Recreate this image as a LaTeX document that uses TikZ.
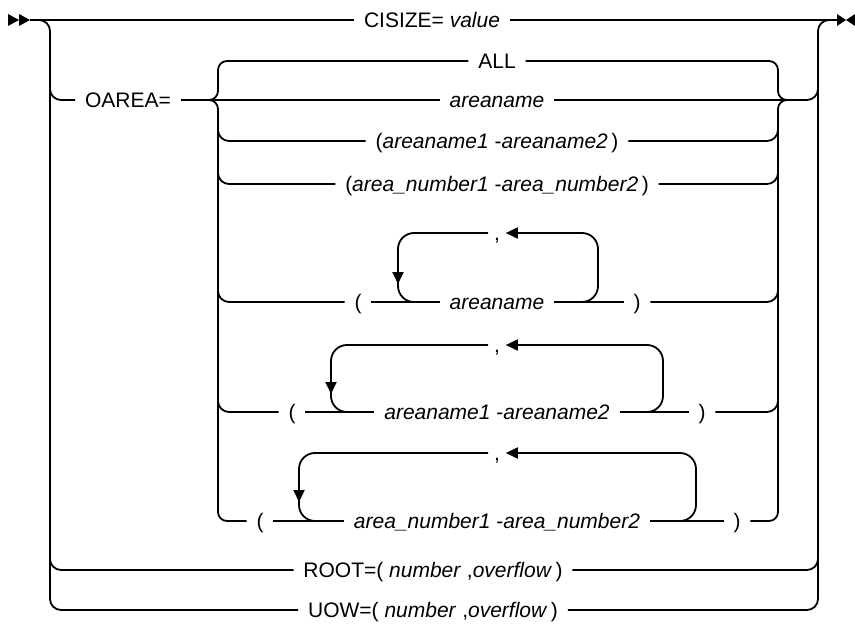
\documentclass[tikz,border=0pt]{standalone}
\usepackage{fontspec}
\setmainfont{Liberation Sans}
\usetikzlibrary{arrows.meta}
\begin{document}
\begin{tikzpicture}[x=1pt,y=-1pt, line width=1.8pt,
  lbl/.style={font=\fontsize{21}{25}\selectfont, inner xsep=9pt, inner ysep=0pt, text height=14.8pt, text depth=0pt},
  commalbl/.style={lbl, inner xsep=5pt},
  rndA/.style={rounded corners=11pt},
  rndB/.style={rounded corners=9pt},
  loopc/.style={rounded corners=16pt},
  arrw/.style={-{Triangle[length=12pt,width=11pt]}}]
\useasboundingbox (0,0) rectangle (855,626);
% start / end marks
\coordinate (start) at (30,20);
\coordinate (end) at (838,20);
\fill (8,14) -- (8,26) -- (19,20) -- cycle;
\fill (19,14) -- (19,26) -- (30,20) -- cycle;
\fill (837,14) -- (837,26) -- (846,20) -- cycle;
\fill (855,14) -- (855,26) -- (846,20) -- cycle;
% text nodes
\node[lbl] (cis) at (432,20) {CISIZE= \textit{value}};
\node[lbl] (oarea) at (128,100) {OAREA=};
\node[lbl] (all) at (497,61) {ALL};
\node[lbl] (an) at (497,100) {\textit{areaname}};
\node[lbl] (r3) at (497,141) {(\textit{areaname1} -\textit{areaname2}\,)};
\node[lbl] (r4) at (497,184) {(\textit{area\_number1} -\textit{area\_number2}\,)};
\node[lbl] (lp1) at (358,302) {(};
\node[lbl] (t1) at (497,302) {\textit{areaname}};
\node[lbl] (rp1) at (637,302) {)};
\node[commalbl] (c1) at (497,233) {,};
\node[lbl] (lp2) at (292,412) {(};
\node[lbl] (t2) at (497,412) {\textit{areaname1} -\textit{areaname2}};
\node[lbl] (rp2) at (702,412) {)};
\node[commalbl] (c2) at (497,345) {,};
\node[lbl] (lp3) at (260,521) {(};
\node[lbl] (t3) at (497,521) {\textit{area\_number1} -\textit{area\_number2}};
\node[lbl] (rp3) at (737,521) {)};
\node[commalbl] (c3) at (497,453) {,};
\node[lbl] (root) at (433,570) {ROOT=( \textit{number} ,\textit{overflow}\,)};
\node[lbl] (uow) at (433,610) {UOW=( \textit{number} ,\textit{overflow}\,)};
% main line
\draw (start) -- (cis.west);
\draw (cis.east) -- (end);
% outer left
\draw[rndA] (36,20) -- (50,20) -- (50,610) -- (uow.west);
\draw[rndA] (50,80) -- (50,100) -- (oarea.west);
\draw[rndA] (50,550) -- (50,570) -- (root.west);
% outer right
\draw[rndA] (uow.east) -- (818,610) -- (818,20) -- (832,20);
\draw[rndA] (an.east) -- (818,100) -- (818,80);
\draw[rndA] (root.east) -- (818,570) -- (818,550);
% OAREA row
\draw (oarea.east) -- (an.west);
% inner left brace
\draw[rndB] (all.west) -- (218,61) -- (218,100) -- (209,100);
\draw[rndB] (209,100) -- (218,100) -- (218,521) -- (lp3.west);
\draw[rndA] (218,120) -- (218,141) -- (r3.west);
\draw[rndA] (218,160) -- (218,184) -- (r4.west);
\draw[rndA] (218,280) -- (218,302) -- (lp1.west);
\draw[rndA] (218,390) -- (218,412) -- (lp2.west);
% inner right brace
\draw[rndB] (all.east) -- (778,61) -- (778,100) -- (787,100);
\draw[rndB] (787,100) -- (778,100) -- (778,521) -- (rp3.east);
\draw[rndA] (r3.east) -- (778,141) -- (778,120);
\draw[rndA] (r4.east) -- (778,184) -- (778,160);
\draw[rndA] (rp1.east) -- (778,302) -- (778,280);
\draw[rndA] (rp2.east) -- (778,412) -- (778,390);
% loop 1
\draw (lp1.east) -- (t1.west);
\draw (t1.east) -- (rp1.west);
\draw[loopc,arrw] (578,302) -- (598,302) -- (598,233) -- (c1.east);
\draw[loopc] (c1.west) -- (398,233) -- (398,302) -- (418,302);
\draw[arrw] (398,258) -- (398,284);
% loop 2
\draw (lp2.east) -- (t2.west);
\draw (t2.east) -- (rp2.west);
\draw[loopc,arrw] (643,412) -- (663,412) -- (663,345) -- (c2.east);
\draw[loopc] (c2.west) -- (331,345) -- (331,412) -- (351,412);
\draw[arrw] (331,368) -- (331,394);
% loop 3
\draw (lp3.east) -- (t3.west);
\draw (t3.east) -- (rp3.west);
\draw[loopc,arrw] (676,521) -- (696,521) -- (696,453) -- (c3.east);
\draw[loopc] (c3.west) -- (299,453) -- (299,521) -- (319,521);
\draw[arrw] (299,476) -- (299,502);
\end{tikzpicture}
\end{document}
